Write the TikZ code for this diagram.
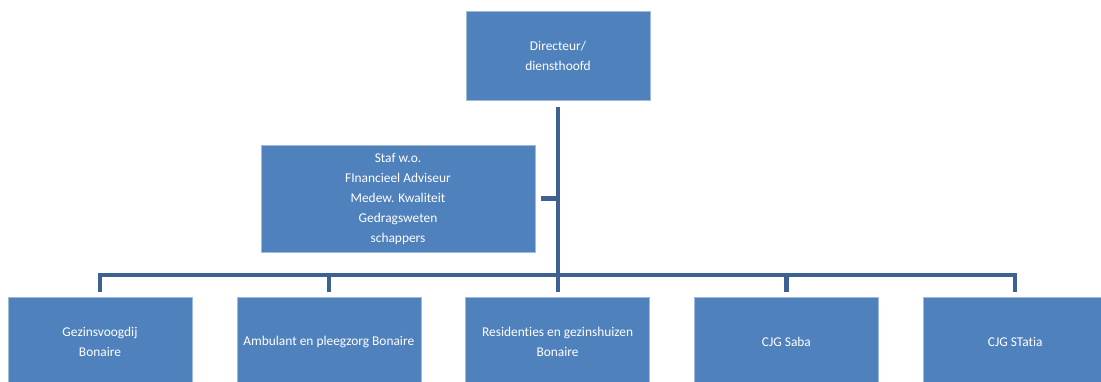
\documentclass[tikz,border=0pt]{standalone}
\usepackage{fontspec}
\setmainfont{Carlito}[Ligatures=NoCommon]
\usetikzlibrary{positioning}
\definecolor{boxblue}{RGB}{79,129,189}
\definecolor{linkblue}{RGB}{60,97,146}
\definecolor{edgeblue}{RGB}{160,186,220}
\tikzstyle{orgbox}=[draw=edgeblue,line width=0.6pt,fill=boxblue,text=white,minimum width=184pt,minimum height=89pt,align=center,inner sep=0pt,font=\fontsize{13.4}{20}\selectfont]
\tikzstyle{link}=[draw=linkblue,line width=4.5pt]

\begin{document}
\begin{tikzpicture}[x=1pt,y=-1pt]
\path[use as bounding box] (0,0) rectangle (1101,381);
\clip (0,0) rectangle (1101,381);
    \node [orgbox] (dir) at (558,56) {Directeur/\\diensthoofd};
    \node [orgbox,minimum width=274pt,minimum height=107pt] (staf) at (398,198.5)
        {Staf w.o.\\FInancieel Adviseur\\Medew. Kwaliteit\\Gedragsweten\\schappers};
\begin{scope}[node distance=44.2pt]
    \node [orgbox] (gez) at (100,342) {Gezinsvoogdij\\Bonaire};
    \node [orgbox,right=of gez] (amb) {Ambulant en pleegzorg Bonaire};
    \node [orgbox,right=of amb] (res) {Residenties en gezinshuizen\\Bonaire};
    \node [orgbox,right=of res] (saba) {CJG Saba};
    \node [orgbox,right=of saba] (statia) {CJG STatia};
\end{scope}
    \coordinate (bus) at (dir.south |- 0,275);
    \draw [link,shorten <=6pt,shorten >=5pt] (dir.south) -- (dir.south |- res.north);
    \draw [link,shorten <=6pt] (staf.east) -- (staf.east -| dir.south);
    \draw [link,shorten >=5pt] (bus) -| (gez.north);
    \draw [link,shorten >=5pt] (bus) -| (amb.north);
    \draw [link,shorten >=5pt] (bus) -| (saba.north);
    \draw [link,shorten >=5pt] (bus) -| (statia.north);
\end{tikzpicture}
\end{document}
